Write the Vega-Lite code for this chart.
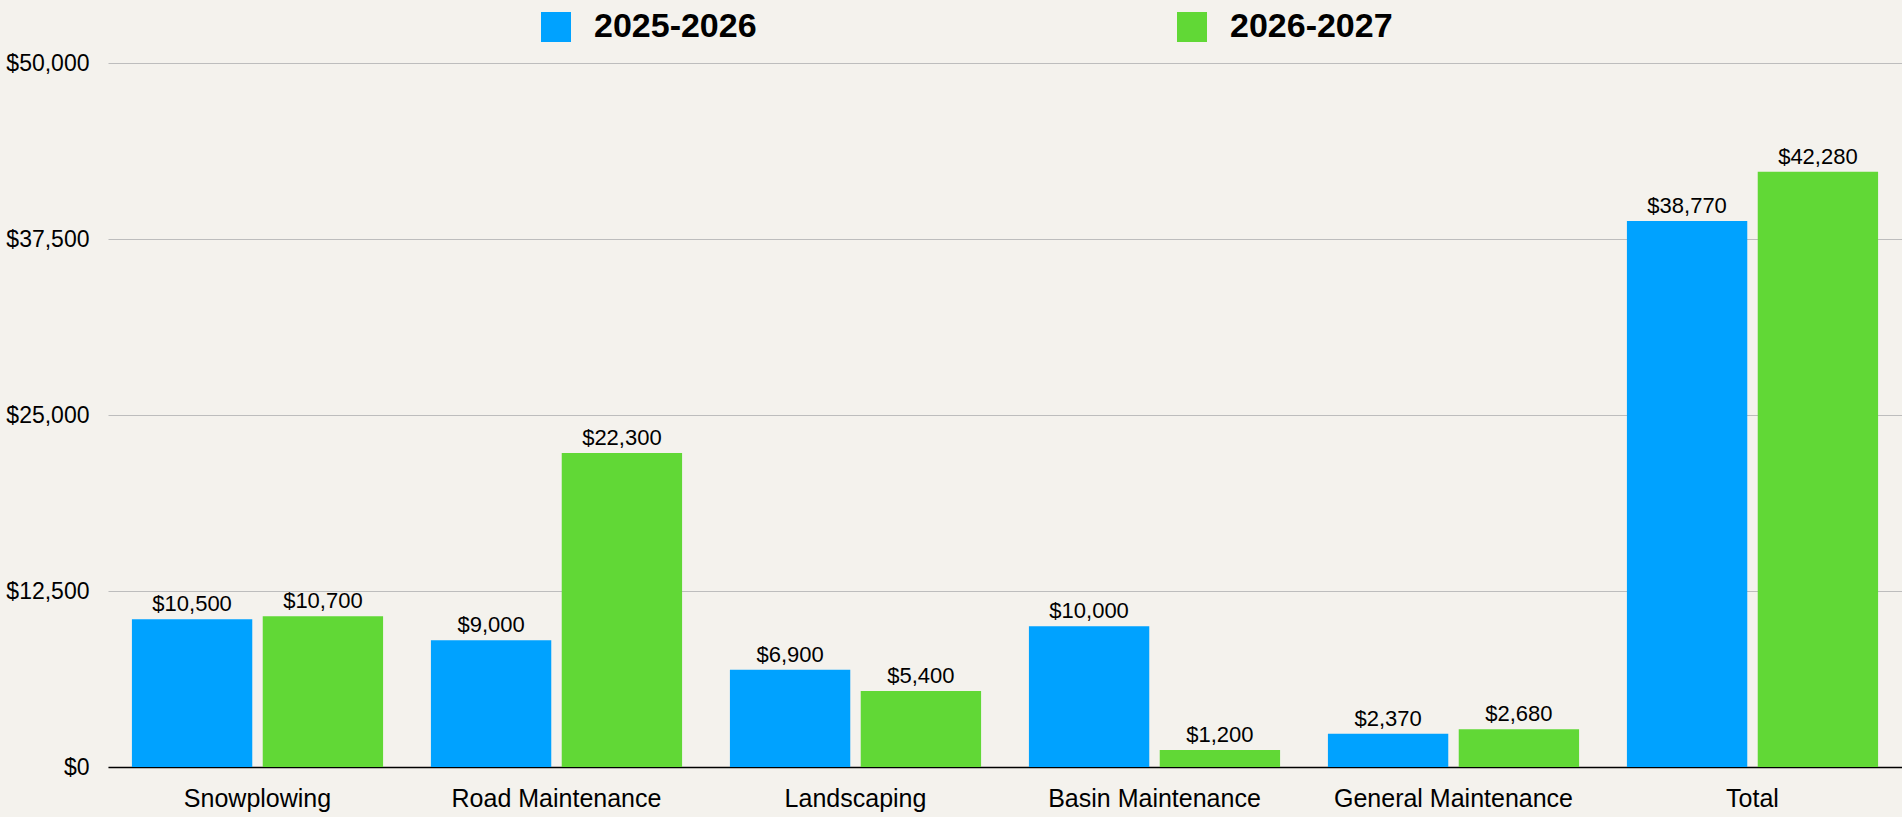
{
  "$schema": "https://vega.github.io/schema/vega-lite/v6.json",
  "width": 1794,
  "height": 704,
  "autosize": {"type": "none"},
  "padding": {"left": 108, "top": 63, "right": 0, "bottom": 50},
  "background": "#F4F2ED",
  "config": {"view": {"stroke": null}, "font": "Liberation Sans"},
  "data": {
    "values": [
      {"category": "Snowplowing", "year": "2025-2026", "value": 10500},
      {"category": "Snowplowing", "year": "2026-2027", "value": 10700},
      {"category": "Road Maintenance", "year": "2025-2026", "value": 9000},
      {"category": "Road Maintenance", "year": "2026-2027", "value": 22300},
      {"category": "Landscaping", "year": "2025-2026", "value": 6900},
      {"category": "Landscaping", "year": "2026-2027", "value": 5400},
      {"category": "Basin Maintenance", "year": "2025-2026", "value": 10000},
      {"category": "Basin Maintenance", "year": "2026-2027", "value": 1200},
      {"category": "General Maintenance", "year": "2025-2026", "value": 2370},
      {"category": "General Maintenance", "year": "2026-2027", "value": 2680},
      {"category": "Total", "year": "2025-2026", "value": 38770},
      {"category": "Total", "year": "2026-2027", "value": 42280}
    ]
  },
  "encoding": {
    "x": {
      "field": "category",
      "type": "nominal",
      "sort": ["Snowplowing", "Road Maintenance", "Landscaping", "Basin Maintenance", "General Maintenance", "Total"],
      "scale": {"paddingInner": 0.16, "paddingOuter": 0.08},
      "axis": {
        "title": null,
        "labelAngle": 0,
        "labelLimit": 0,
        "ticks": false,
        "domainColor": "#000000",
        "domainWidth": 1.5,
        "labelFontSize": 25,
        "labelPadding": 19,
        "labelColor": "#000000",
        "labelFont": "Liberation Sans"
      }
    },
    "xOffset": {"field": "year", "type": "nominal", "scale": {"paddingInner": 0.08}},
    "y": {
      "field": "value",
      "type": "quantitative",
      "scale": {"domain": [0, 50000]},
      "axis": {
        "title": null,
        "values": [0, 12500, 25000, 37500, 50000],
        "format": "$,.0f",
        "domain": false,
        "ticks": false,
        "gridColor": "#BDBDBD",
        "gridWidth": 1,
        "labelFontSize": 23,
        "labelPadding": 19,
        "labelColor": "#000000",
        "labelFont": "Liberation Sans"
      }
    }
  },
  "layer": [
    {
      "mark": {"type": "bar"},
      "encoding": {
        "color": {
          "field": "year",
          "type": "nominal",
          "scale": {"domain": ["2025-2026", "2026-2027"], "range": ["#00A2FF", "#61D836"]},
          "legend": {
            "orient": "none",
            "legendX": 431,
            "legendY": -53,
            "direction": "horizontal",
            "title": null,
            "symbolType": "square",
            "symbolSize": 900,
            "symbolStrokeWidth": 0,
            "labelFontSize": 34,
            "labelFontWeight": "bold",
            "labelLimit": 0,
            "labelColor": "#000000",
            "labelFont": "Liberation Sans",
            "labelOffset": 21,
            "columnPadding": 418
          }
        }
      }
    },
    {
      "mark": {"type": "text", "baseline": "bottom", "dy": -3, "fontSize": 22, "color": "#000000", "font": "Liberation Sans"},
      "encoding": {"text": {"field": "value", "type": "quantitative", "format": "$,.0f"}}
    }
  ]
}
